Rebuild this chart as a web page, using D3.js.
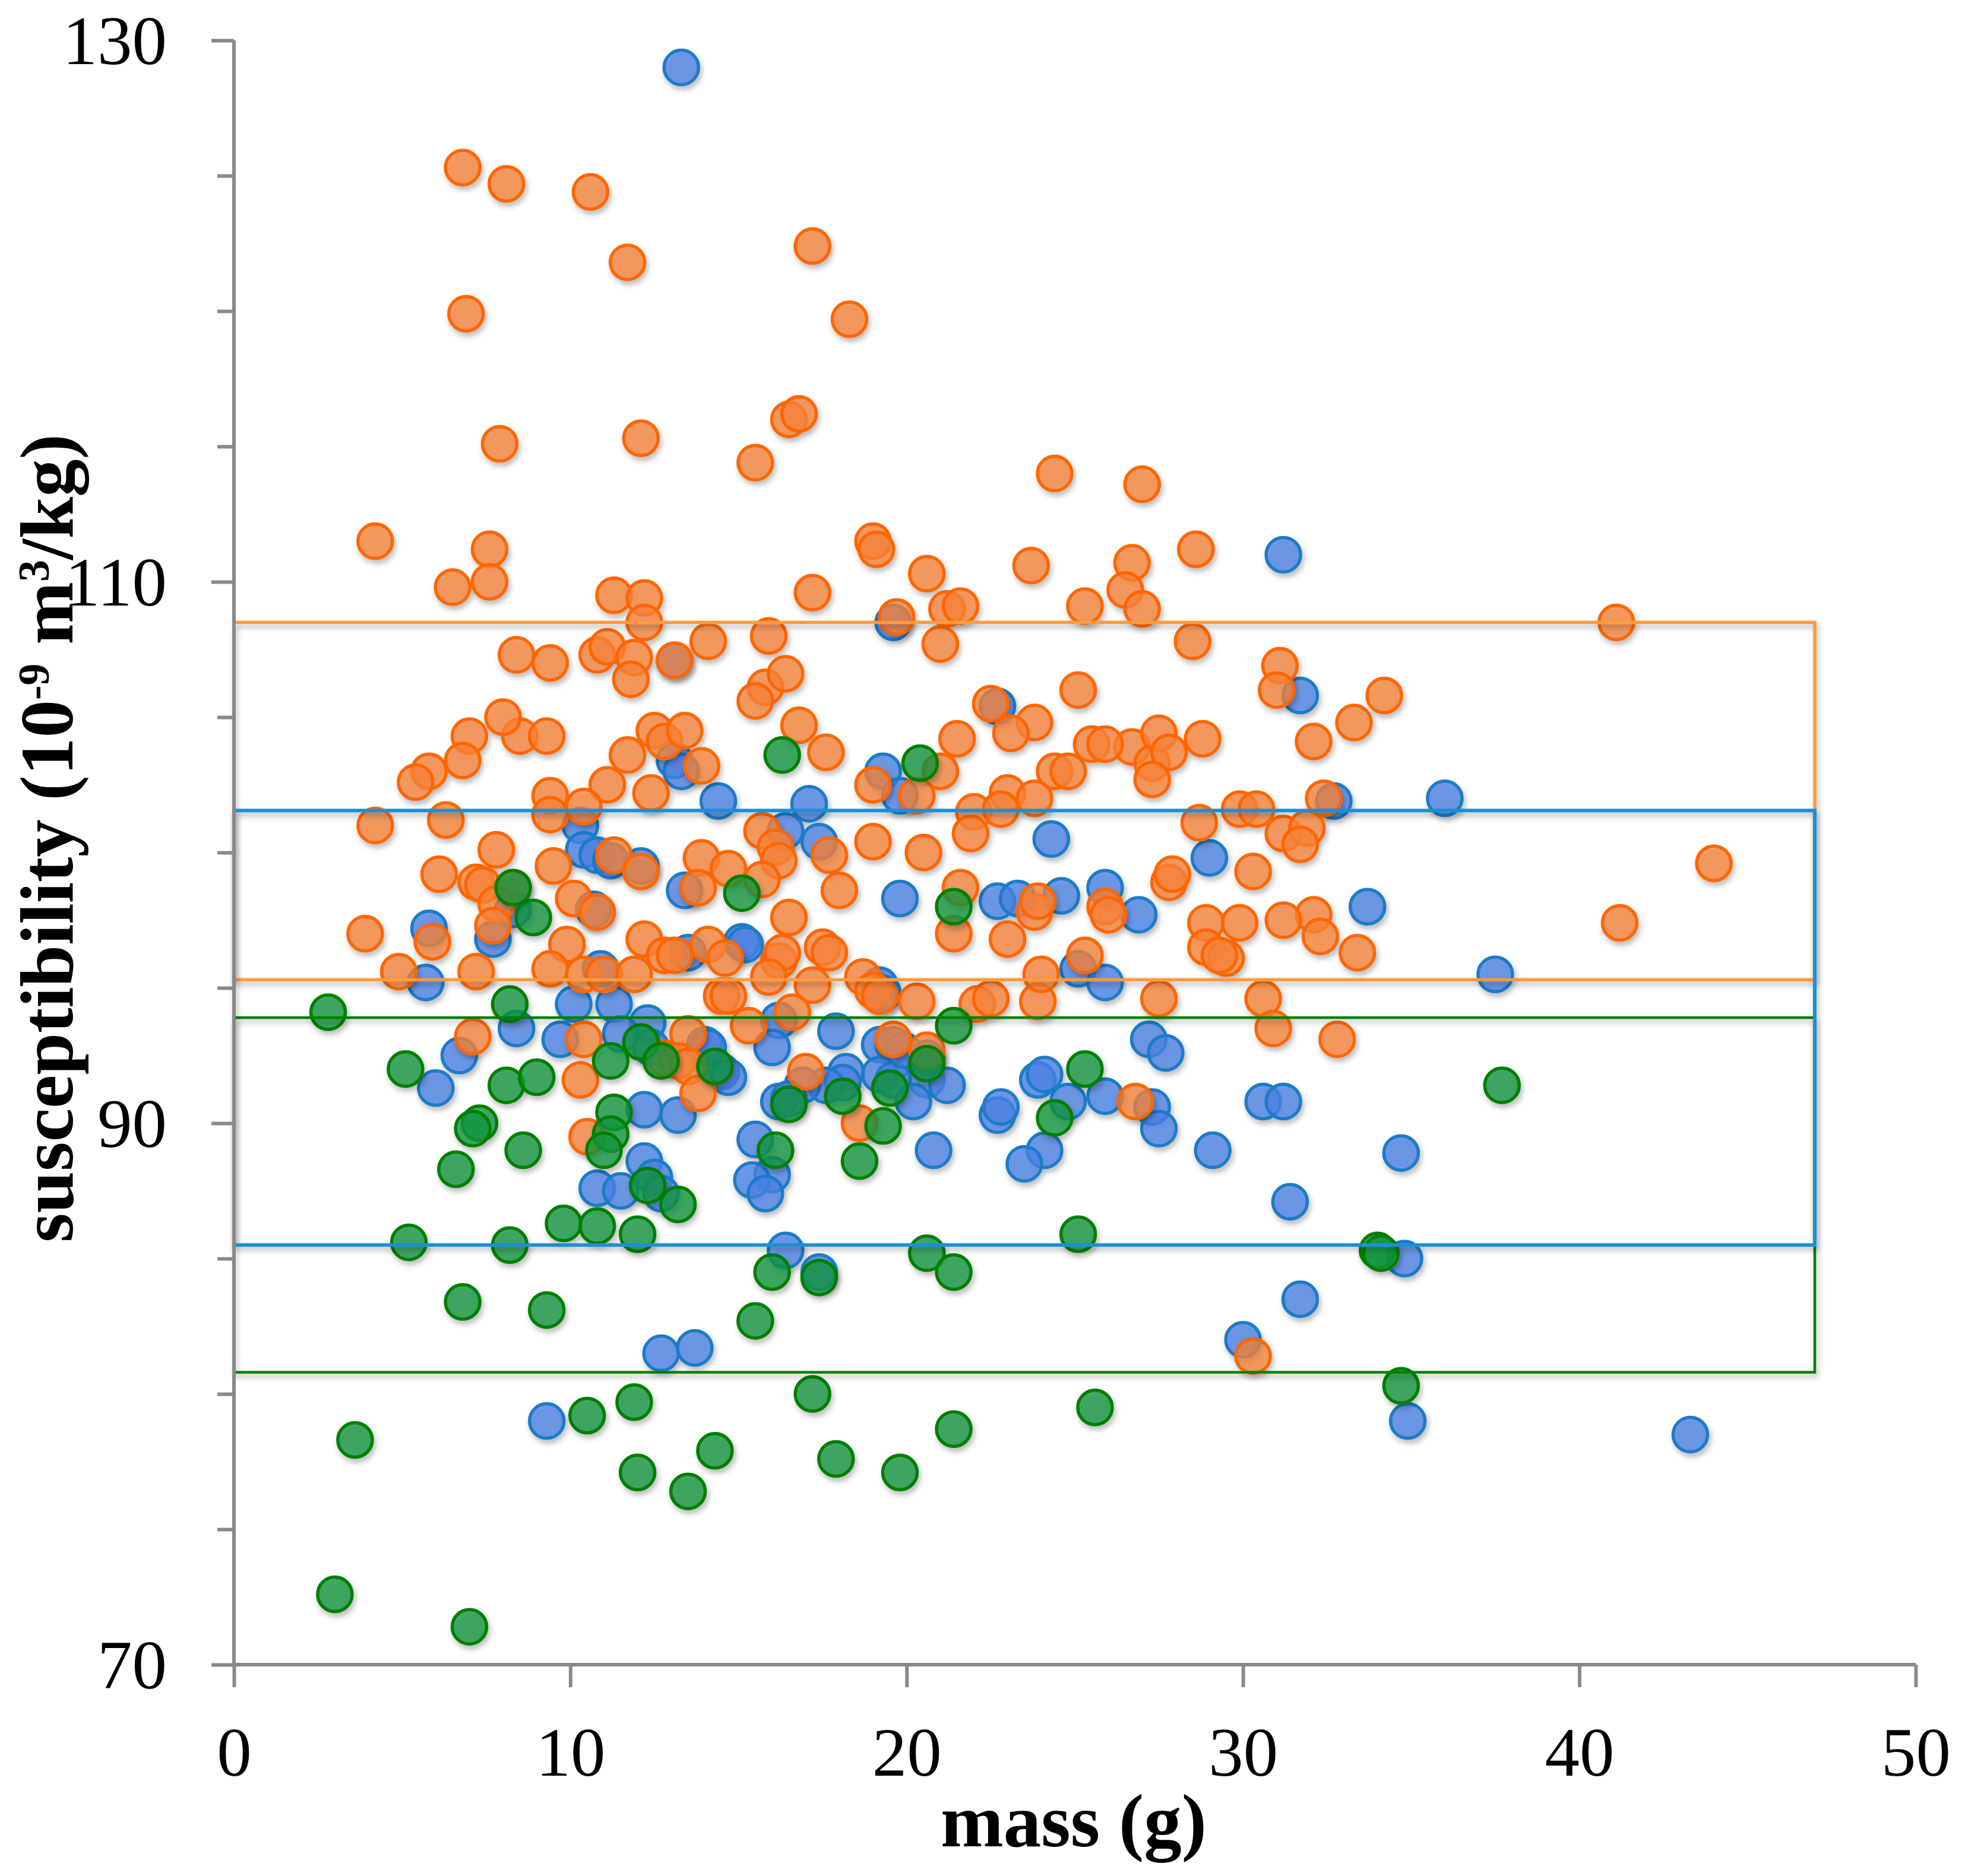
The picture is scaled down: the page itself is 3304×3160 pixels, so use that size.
<html>
<head>
    <style>
        body { margin: 0; background: #fff; }
        svg { display: block; }
    </style>
</head>
<body>
    <svg id="container" width="3304" height="3160">
        <defs>
            <filter id="shadow" x="-20%" y="-20%" width="140%" height="140%">
                <feDropShadow dx="3" dy="6" stdDeviation="5" flood-color="#000" flood-opacity="0.3"></feDropShadow>
            </filter>
        </defs>
        <g id="boxes"></g>
        <g id="dots"></g>
        <g id="yAxis"></g>
        <g id="xAxis"></g>
    </svg>
</body>
<script src="https://cdn.jsdelivr.net/npm/d3@7"></script>
<script>
    // [mass (g), susceptibility]
    let blueData = [
        [13.3,129.0],[31.2,111.0],[19.6,108.5],[31.7,105.8],[22.7,105.4],[13.1,107.1],[13.1,103.4],[13.3,103.0],
        [19.3,103.0],[14.4,101.9],[17.1,101.8],[19.8,102.1],[32.7,101.9],[36.0,102.0],[10.3,101.0],[16.4,100.8],
        [10.4,100.1],[10.8,99.9],[11.2,99.7],[12.1,99.5],[17.4,100.4],[24.3,100.5],[29.0,99.8],[25.9,98.7],
        [13.4,98.6],[19.8,98.3],[22.7,98.2],[23.3,98.3],[24.6,98.4],[26.9,97.7],[33.7,98.0],[5.8,97.2],
        [7.7,96.8],[8.3,97.9],[10.7,97.9],[15.1,96.7],[15.2,96.6],[13.5,96.3],[5.7,95.2],[10.9,95.7],
        [25.1,95.7],[25.9,95.2],[37.5,95.5],[19.2,95.1],[19.3,94.8],[10.1,94.4],[11.3,94.4],[12.3,93.7],
        [8.4,93.5],[9.7,93.1],[11.5,93.3],[16.2,93.8],[17.9,93.4],[16.0,92.8],[12.4,92.8],[14.0,92.9],
        [14.5,91.9],[6.7,92.5],[6.0,91.3],[19.2,92.9],[19.6,92.9],[19.8,92.4],[20.6,92.4],[20.6,91.6],
        [21.2,91.4],[19.2,91.8],[19.6,91.6],[18.2,91.9],[18.1,91.5],[17.6,91.4],[16.2,90.8],[20.2,90.8],
        [12.2,90.5],[13.2,90.3],[15.5,89.4],[16.0,88.1],[15.4,87.9],[15.8,87.4],[10.8,87.6],[11.5,87.5],
        [12.2,88.6],[12.5,88.0],[12.7,87.4],[20.8,89.0],[22.7,90.3],[22.8,90.6],[23.9,91.6],[24.8,90.8],
        [24.1,89.0],[23.5,88.5],[25.9,91.0],[27.2,93.1],[27.7,92.6],[27.3,90.6],[27.5,89.8],[29.1,89.0],
        [30.6,90.8],[31.2,90.8],[31.4,87.1],[34.7,88.9],[31.7,83.5],[30.0,82.0],[34.8,85.0],[34.9,79.0],
        [43.3,78.5],[16.4,85.3],[17.4,84.5],[12.7,81.5],[13.7,81.7],[9.3,79.0],[24.1,91.8],[19.9,92.7],
        [14.7,91.7],[16.9,91.4],[16.5,90.9],[14.1,92.8]
    ]

    let orangeData = [
        [6.8,125.3],[8.1,124.7],[10.6,124.4],[11.7,121.8],[17.2,122.4],[6.9,119.9],[18.3,119.7],[16.5,116.0],
        [16.8,116.2],[7.9,115.1],[12.1,115.3],[15.5,114.4],[24.4,114.0],[27.0,113.6],[4.2,111.5],[7.6,111.2],
        [19.0,111.5],[19.1,111.2],[28.6,111.2],[6.5,109.8],[7.6,110.0],[11.3,109.5],[12.2,109.4],[20.6,110.3],
        [17.2,109.6],[23.7,110.6],[26.7,110.7],[26.5,109.7],[27.0,109.0],[21.2,109.0],[21.6,109.1],[25.3,109.1],
        [19.7,108.7],[12.2,108.5],[41.1,108.5],[8.4,107.3],[9.4,107.0],[10.8,107.3],[11.1,107.6],[11.9,107.2],
        [11.8,106.4],[13.1,107.1],[14.1,107.8],[15.9,108.0],[15.8,106.1],[16.4,106.6],[15.5,105.6],[16.8,104.7],
        [21.0,107.7],[28.5,107.8],[31.1,106.9],[31.0,106.0],[25.1,106.0],[34.2,105.8],[22.5,105.5],[23.8,104.8],
        [23.1,104.4],[7.0,104.3],[8.5,104.3],[9.3,104.3],[8.0,105.0],[6.8,103.4],[5.8,103.0],[5.4,102.6],
        [12.5,104.5],[12.8,104.1],[13.4,104.5],[11.7,103.6],[13.9,103.2],[17.6,103.7],[21.5,104.2],[26.7,103.9],
        [27.3,103.3],[27.5,104.4],[27.8,103.7],[28.8,104.2],[25.5,104.0],[25.9,104.0],[33.3,104.8],[32.1,104.1],
        [24.4,103.0],[24.8,103.0],[27.3,102.7],[19.0,102.5],[20.3,102.1],[23.0,102.2],[23.8,102.0],[22.0,101.5],
        [22.8,101.6],[29.9,101.6],[30.4,101.6],[32.4,102.0],[9.4,102.1],[9.4,101.4],[11.1,102.5],[10.4,101.7],
        [12.4,102.2],[4.2,101.0],[6.3,101.2],[15.7,100.8],[16.1,100.2],[16.2,99.7],[17.7,99.9],[19.0,100.4],
        [20.5,100.0],[21.9,100.7],[28.7,101.1],[31.2,100.7],[31.9,100.9],[31.7,100.3],[7.8,100.1],[11.3,99.9],
        [9.5,99.5],[12.1,99.3],[13.9,99.8],[14.7,99.4],[15.7,99.0],[6.1,99.2],[7.2,98.9],[7.4,98.8],
        [8.3,98.7],[27.8,98.9],[27.9,99.2],[30.3,99.3],[44.0,99.6],[10.1,98.3],[18.0,98.6],[13.8,98.7],
        [21.6,98.7],[23.8,97.8],[23.9,98.2],[25.9,98.0],[26.0,97.7],[7.8,98.1],[10.8,97.8],[16.5,97.6],
        [21.4,97.0],[23.0,96.8],[28.9,97.4],[29.9,97.4],[32.1,97.7],[31.2,97.5],[41.2,97.4],[3.9,97.0],
        [5.9,96.7],[7.7,97.3],[9.9,96.6],[12.2,96.8],[12.8,96.2],[13.1,96.2],[14.1,96.6],[16.2,96.0],
        [16.3,96.3],[17.5,96.5],[17.7,96.3],[28.9,96.5],[29.5,96.1],[29.3,96.2],[32.3,96.9],[33.4,96.3],
        [14.6,96.1],[4.9,95.6],[7.2,95.6],[9.4,95.7],[10.4,95.5],[11.0,95.5],[11.9,95.5],[15.9,95.4],
        [17.2,95.1],[18.7,95.4],[19.0,94.9],[19.2,94.7],[25.3,96.2],[14.5,94.7],[14.7,94.7],[16.6,94.1],
        [20.3,94.5],[22.1,94.4],[22.5,94.6],[23.9,94.5],[24.0,95.5],[27.5,94.6],[30.6,94.6],[30.9,93.5],
        [32.8,93.1],[7.1,93.2],[10.4,93.1],[13.5,93.3],[12.8,92.4],[13.2,92.3],[13.5,92.1],[15.3,93.6],
        [19.6,93.1],[13.8,91.1],[10.3,91.6],[17.0,91.9],[26.8,90.8],[10.5,89.5],[18.6,90.0],[30.3,81.4],
        [20.6,92.7],[21.0,103.0]
    ]

    let greenData = [
        [2.8,94.1],[3.6,78.3],[3.0,72.6],[7.0,71.4],[5.1,92.0],[5.2,85.6],[7.3,90.0],[7.1,89.8],
        [6.6,88.3],[6.8,83.4],[8.2,85.5],[9.3,83.1],[8.1,91.4],[9.0,91.7],[8.6,89.0],[8.2,94.4],
        [8.3,98.7],[8.9,97.6],[9.8,86.3],[10.8,86.2],[10.5,79.2],[11.9,79.7],[12.0,77.1],[13.5,76.4],
        [14.3,77.9],[11.3,90.4],[11.2,89.6],[11.0,89.0],[11.2,92.3],[12.0,85.9],[12.3,87.7],[12.1,93.0],
        [12.7,92.3],[14.3,92.1],[13.2,87.0],[15.1,98.5],[16.3,103.6],[15.5,82.7],[16.0,84.5],[16.1,89.0],
        [16.5,90.7],[17.2,80.0],[17.4,84.3],[17.9,77.6],[18.1,91.0],[18.6,88.6],[19.3,89.9],[19.5,91.3],
        [19.8,77.1],[20.4,103.3],[20.6,85.2],[20.6,92.2],[21.4,84.5],[21.4,78.7],[21.4,93.6],[21.4,98.0],
        [24.4,90.2],[25.3,92.0],[25.1,85.9],[25.6,79.5],[34.0,85.3],[34.1,85.2],[34.7,80.3],[37.7,91.4]
    ]

    // the three range boxes: [low, high] susceptibility, all from mass 0 to boxMass
    let boxMass = 47
    let greenBox = [80.8, 93.9]
    let orangeBox = [95.3, 108.5]
    let blueBox = [85.5, 101.55]

    let xTicks = [0, 10, 20, 30, 40, 50]
    let yTicks = [70, 90, 110, 130]
    let yMinorTicks = [75, 80, 85, 95, 100, 105, 115, 120, 125]

    let xScale = d3.scaleLinear().domain([0, 50]).range([394, 3226])
    let yScale = d3.scaleLinear().domain([70, 130]).range([2804, 68])

    let dots = d3.select("#dots")

    // blue goes under, then orange, green on top
    let series = [
        { data: blueData, fill: "#4b80e3", stroke: "#1b7bc8" },
        { data: orangeData, fill: "#f7833b", stroke: "#ff6600" },
        { data: greenData, fill: "#12943c", stroke: "#008000" }
    ]

    series.forEach(s => {
        let g = dots.append("g").attr("filter", "url(#shadow)")
        g.selectAll("circle")
            .data(s.data)
            .enter()
            .append("circle")
            .attr("cx", d => xScale(d[0]))
            .attr("cy", d => yScale(d[1]))
            .attr("r", 29)
            .style("fill", s.fill)
            .style("fill-opacity", 0.75)
            .style("stroke", s.stroke)
            .style("stroke-width", 5.5)
    })

    // boxes are drawn over the dots
    let boxes = [
        { range: greenBox, color: "#008000", width: 4.5 },
        { range: orangeBox, color: "#ff9a3c", width: 5.5 },
        { range: blueBox, color: "#1f8fd6", width: 6 }
    ]
    let boxLayer = d3.select("#boxes").raise()
    boxes.forEach(b => {
        boxLayer.append("rect")
            .attr("x", xScale(0))
            .attr("y", yScale(b.range[1]))
            .attr("width", xScale(boxMass) - xScale(0))
            .attr("height", yScale(b.range[0]) - yScale(b.range[1]))
            .attr("filter", "url(#shadow)")
            .style("fill", "none")
            .style("stroke", b.color)
            .style("stroke-width", b.width)
    })

    // axes
    let axisColor = "#898989"
    let yAxis = d3.select("#yAxis").raise()
    yAxis.append("g").call(d3.axisLeft(yScale).tickValues(yMinorTicks).tickSize(28).tickFormat(""))
    yAxis.append("g").call(d3.axisLeft(yScale).tickValues(yTicks).tickSize(38).tickPadding(75))
        .selectAll("text")
        .attr("dy", "0.34em")

    let xAxis = d3.select("#xAxis").raise()
    xAxis.attr("transform", `translate(0, ${yScale(70)})`)
        .call(d3.axisBottom(xScale).tickValues(xTicks).tickSize(38).tickPadding(66))
        .selectAll("text")
        .attr("dy", "0.71em")

    yAxis.attr("transform", `translate(${xScale(0)}, 0)`)

    d3.selectAll("#xAxis path, #yAxis path").remove()
    d3.selectAll("#xAxis line, #yAxis line").style("stroke", axisColor).style("stroke-width", 6)
    d3.selectAll("#xAxis text, #yAxis text")
        .style("font-family", "'Liberation Serif', 'Times New Roman', serif")
        .style("font-size", "117px")
        .style("fill", "#000")

    // plain axis lines
    let svg = d3.select("#container")
    svg.append("line")
        .attr("x1", xScale(0)).attr("x2", xScale(0))
        .attr("y1", yScale(130)).attr("y2", yScale(70))
        .style("stroke", axisColor).style("stroke-width", 6)
    svg.append("line")
        .attr("x1", xScale(0)).attr("x2", xScale(50))
        .attr("y1", yScale(70)).attr("y2", yScale(70))
        .style("stroke", axisColor).style("stroke-width", 6)

    // axis titles
    svg.append("text")
        .attr("x", 1808)
        .attr("y", 3110)
        .attr("text-anchor", "middle")
        .style("font-family", "'Liberation Serif', 'Times New Roman', serif")
        .style("font-weight", "bold")
        .style("font-size", "127px")
        .text("mass (g)")

    let yTitle = svg.append("text")
        .attr("transform", "translate(122, 1412) rotate(-90)")
        .attr("text-anchor", "middle")
        .style("font-family", "'Liberation Serif', 'Times New Roman', serif")
        .style("font-weight", "bold")
        .style("font-size", "127px")
    yTitle.append("tspan").text("susceptibility (10")
    yTitle.append("tspan").attr("dy", -40).style("font-size", "74px").text("-9")
    yTitle.append("tspan").attr("dy", 40).text(" m")
    yTitle.append("tspan").attr("dy", -40).style("font-size", "74px").text("3")
    yTitle.append("tspan").attr("dy", 40).text("/kg)")
</script>
</html>
